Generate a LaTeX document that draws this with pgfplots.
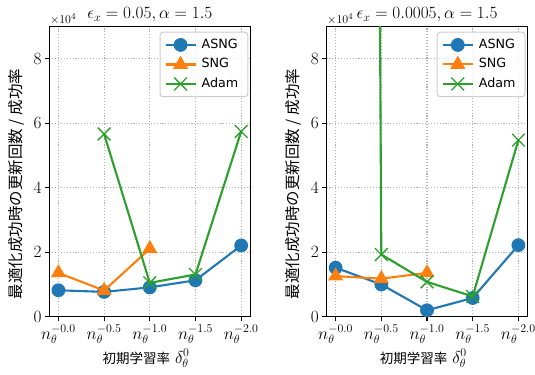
\documentclass[border=0pt]{standalone}
\usepackage{fontspec}
\usepackage{pgfplots}
\pgfplotsset{compat=1.18}
\newfontfamily\jpfont{Noto Sans CJK JP}
\newfontfamily\dvfont{DejaVu Sans}
\definecolor{c1}{HTML}{1F77B4}
\definecolor{c2}{HTML}{FF7F0E}
\definecolor{c3}{HTML}{2CA02C}
\pgfplotsset{
  panel/.style={
    anchor=south west, scale only axis, width=201bp, height=290bp,
    xmin=-0.2, xmax=4.2, ymin=0, ymax=9,
    xtick={0,1,2,3,4},
    xticklabels={$n_\theta^{-0.0}$,$n_\theta^{-0.5}$,$n_\theta^{-1.0}$,$n_\theta^{-1.5}$,$n_\theta^{-2.0}$},
    ytick={0,2,4,6,8},
    grid=major,
    major grid style={color=black!31, line width=1.1bp, dash pattern=on 1.1bp off 1.8bp},
    tick align=outside, xtick pos=left, ytick pos=left,
    major tick length=4.3bp,
    every tick/.style={black, line width=1.1bp},
    axis line style={black, line width=1.1bp},
    tick label style={font=\fontsize{16.6bp}{19bp}\selectfont},
    clip marker paths=true,
    legend cell align=left,
    legend image code/.code={\draw[##1, fill opacity=1, sharp corners, mark repeat=2, mark phase=2] plot coordinates {(0bp,0bp) (15bp,0bp) (30bp,0bp)};},
    legend style={at={(1,1)}, anchor=north east, xshift=-2bp, yshift=-5bp,
      draw=black!20, line width=1bp, rounded corners=3bp, fill=white, fill opacity=0.8, text opacity=1,
      font=\dvfont\fontsize{12.7bp}{15bp}\selectfont, inner xsep=4.5bp, inner ysep=3bp,
      nodes={inner xsep=5bp, inner ysep=3.5bp, text height=9.5bp, text depth=3bp}},
  },
  asng/.style={c1, line width=2.1bp, mark=*, mark size=6.4bp, mark options={solid, fill=c1, draw=c1, line width=1bp}},
  sng/.style={c2, line width=2.1bp, mark=triangle*, mark size=7.7bp, mark options={solid, fill=c2, draw=c2, line width=1bp}},
  adam/.style={c3, line width=2.1bp, mark=x, mark size=9bp, mark options={solid, draw=c3, line width=1.3bp}},
}
\begin{document}
\begin{tikzpicture}
\useasboundingbox (0,0) rectangle (535bp,375bp);
% left panel
\begin{axis}[panel, at={(49.3bp,58.3bp)}]
\addplot[asng] coordinates {(0,0.82) (1,0.77) (2,0.91) (3,1.13) (4,2.21)};
\addlegendentry{ASNG}
\addplot[sng] coordinates {(0,1.36) (1,0.81) (2,2.11)};
\addlegendentry{SNG}
\addplot[adam] coordinates {(1,5.67) (2,1.05) (3,1.31) (4,5.75)};
\addlegendentry{Adam}
\end{axis}
% right panel
\begin{axis}[panel, at={(326.5bp,58.3bp)}]
\addplot[asng] coordinates {(0,1.52) (1,1.00) (2,0.20) (3,0.58) (4,2.22)};
\addlegendentry{ASNG}
\addplot[sng] coordinates {(0,1.26) (1,1.18) (2,1.36)};
\addlegendentry{SNG}
\addplot[adam] coordinates {(0,250) (1,1.93) (2,1.08) (3,0.63) (4,5.48)};
\addlegendentry{Adam}
\end{axis}
% offset labels
\node[anchor=south west, inner sep=0, font=\fontsize{13bp}{15bp}\selectfont] at (49.8bp,350bp) {$\times10^{4}$};
\node[anchor=south west, inner sep=0, font=\fontsize{13bp}{15bp}\selectfont] at (327bp,350bp) {$\times10^{4}$};
% titles
\node[anchor=base, inner sep=0, font=\fontsize{16.6bp}{19bp}\selectfont] at (149.8bp,356.5bp) {$\epsilon_x = 0.05, \alpha = 1.5$};
\node[anchor=base, inner sep=0, font=\fontsize{16.6bp}{19bp}\selectfont] at (427bp,356.5bp) {$\epsilon_x = 0.0005, \alpha = 1.5$};
% y labels
\node[rotate=90, inner sep=0, font=\jpfont\fontsize{15.5bp}{18bp}\selectfont] at (16bp,191bp) {最適化成功時の更新回数 / 成功率};
\node[rotate=90, inner sep=0, font=\jpfont\fontsize{15.5bp}{18bp}\selectfont] at (293.3bp,191bp) {最適化成功時の更新回数 / 成功率};
% x labels
\node[anchor=base, inner sep=0, font=\fontsize{16.6bp}{19bp}\selectfont] at (146bp,12bp) {{\jpfont\fontsize{13.5bp}{16bp}\selectfont 初期学習率} $\delta_\theta^0$};
\node[anchor=base, inner sep=0, font=\fontsize{16.6bp}{19bp}\selectfont] at (423.3bp,12bp) {{\jpfont\fontsize{13.5bp}{16bp}\selectfont 初期学習率} $\delta_\theta^0$};
\end{tikzpicture}
\end{document}
